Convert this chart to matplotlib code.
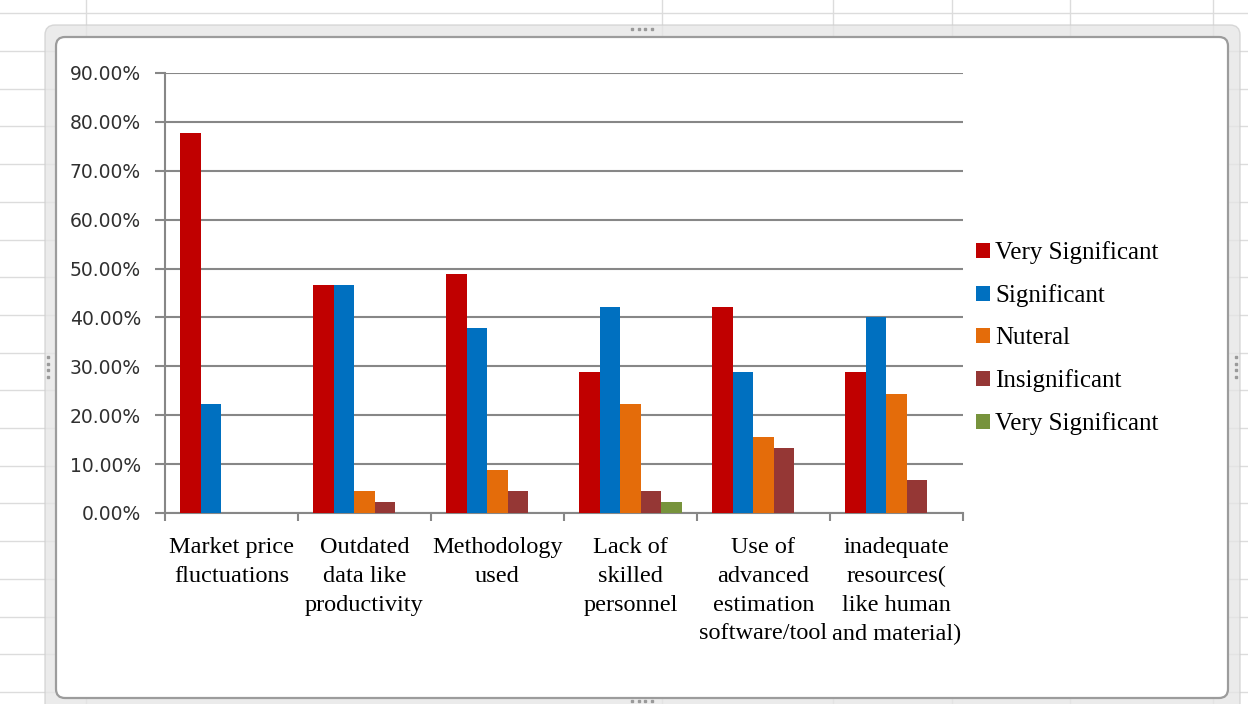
import matplotlib.pyplot as plt
from matplotlib.patches import FancyBboxPatch
from matplotlib.lines import Line2D
from matplotlib.transforms import IdentityTransform
from matplotlib.ticker import FuncFormatter
import numpy as np

# survey answers, share of respondents (%)
categories = ['Market price\nfluctuations',
              'Outdated\ndata like\nproductivity',
              'Methodology\nused',
              'Lack of\nskilled\npersonnel',
              'Use of\nadvanced\nestimation\nsoftware/tool',
              'inadequate\nresources(\nlike human\nand material)']
series_names = ['Very Significant', 'Significant', 'Nuteral', 'Insignificant', 'Very Significant']
very_significant = [77.78, 46.67, 48.89, 28.89, 42.22, 28.89]
significant = [22.22, 46.67, 37.78, 42.22, 28.89, 40.00]
neutral = [0, 4.44, 8.89, 22.22, 15.56, 24.44]
insignificant = [0, 2.22, 4.44, 4.44, 13.33, 6.67]
very_significant_2 = [0, 0, 0, 2.22, 0, 0]
yticks = np.arange(0, 91, 10)

colors = ['#C00000', '#0070C0', '#E46C0A', '#953735', '#77933C']

W, H = 1248, 704
fig = plt.figure(figsize=(W / 100, H / 100), dpi=100)
fig.patch.set_facecolor('white')
px = IdentityTransform()

# worksheet cell grid behind the chart object
for k in range(20):
    y = H - (13.3 + 37.7 * k)
    fig.add_artist(Line2D([0, W], [y, y], color='#dcdcdc', lw=1, transform=px, zorder=-20))
for x in [86, 662, 833, 952, 1070, 1213]:
    fig.add_artist(Line2D([x, x], [0, H], color='#dcdcdc', lw=1, transform=px, zorder=-20))

# chart object frame (selected look) and white chart area
fig.add_artist(FancyBboxPatch((45, H - 716), 1195, 691,
                              boxstyle='round,pad=0,rounding_size=10',
                              facecolor='#e6e6e6', edgecolor='#cfcfcf', lw=1,
                              alpha=0.8, transform=px, zorder=-15))
fig.add_artist(FancyBboxPatch((56, H - 698), 1172, 661,
                              boxstyle='round,pad=0,rounding_size=9',
                              facecolor='white', edgecolor='#9c9c9c', lw=1.6,
                              transform=px, zorder=-10))
# sizing handles
for hx in np.arange(632, 657, 6.5):
    fig.add_artist(Line2D([hx], [H - 29], marker='s', ms=1.6, color='#9a9a9a', transform=px, zorder=-5))
    fig.add_artist(Line2D([hx], [H - 701], marker='s', ms=1.6, color='#9a9a9a', transform=px, zorder=-5))
for hy in np.arange(357, 382, 6.5):
    fig.add_artist(Line2D([48], [H - hy], marker='s', ms=1.6, color='#9a9a9a', transform=px, zorder=-5))
    fig.add_artist(Line2D([1236], [H - hy], marker='s', ms=1.6, color='#9a9a9a', transform=px, zorder=-5))

ax = fig.add_axes([165 / W, (H - 513) / H, 798 / W, 440 / H])
ax.set_facecolor('none')

x = np.arange(len(categories))
w = 1 / 6.5
all_series = [very_significant, significant, neutral, insignificant, very_significant_2]
handles = []
for i, vals in enumerate(all_series):
    b = ax.bar(x + (i - 2) * w, vals, w, color=colors[i], zorder=3, label=series_names[i])
    handles.append(b)

ax.set_xlim(-0.5, len(categories) - 0.5)
ax.set_ylim(0, 90)
ax.set_yticks(yticks)
ax.yaxis.set_major_formatter(FuncFormatter(lambda v, p: f'{v:.2f}%'))
ax.yaxis.grid(True, color='#878787', lw=1.5, zorder=0)
ax.set_axisbelow(True)

for s in ['top', 'right']:
    ax.spines[s].set_visible(False)
for s in ['left', 'bottom']:
    ax.spines[s].set_color('#878787')
    ax.spines[s].set_linewidth(1.5)

ax.tick_params(axis='y', length=7.2, width=1.5, color='#878787', pad=10,
               labelsize=13.5, labelcolor='#303030')
for t in ax.get_yticklabels():
    t.set_family('DejaVu Sans')

ax.set_xticks(x)
ax.set_xticklabels(categories, family='Liberation Serif', fontsize=17.5,
                   color='black', linespacing=1.48)
ax.set_xticks(np.arange(-0.5, len(categories)), minor=True)
ax.tick_params(axis='x', which='major', length=0, pad=17.5)
ax.tick_params(axis='x', which='minor', length=5.5, width=1.5, color='#878787')

ax.legend(handles=handles, labels=series_names, loc='center left',
          bbox_to_anchor=(976 / W, (H - 338) / H), bbox_transform=fig.transFigure,
          frameon=False, prop={'family': 'Liberation Serif', 'size': 18},
          handlelength=0.55, handleheight=0.55, handletextpad=0.22,
          labelspacing=0.8, borderpad=0, borderaxespad=0)

fig.savefig('out.png', dpi=100)
